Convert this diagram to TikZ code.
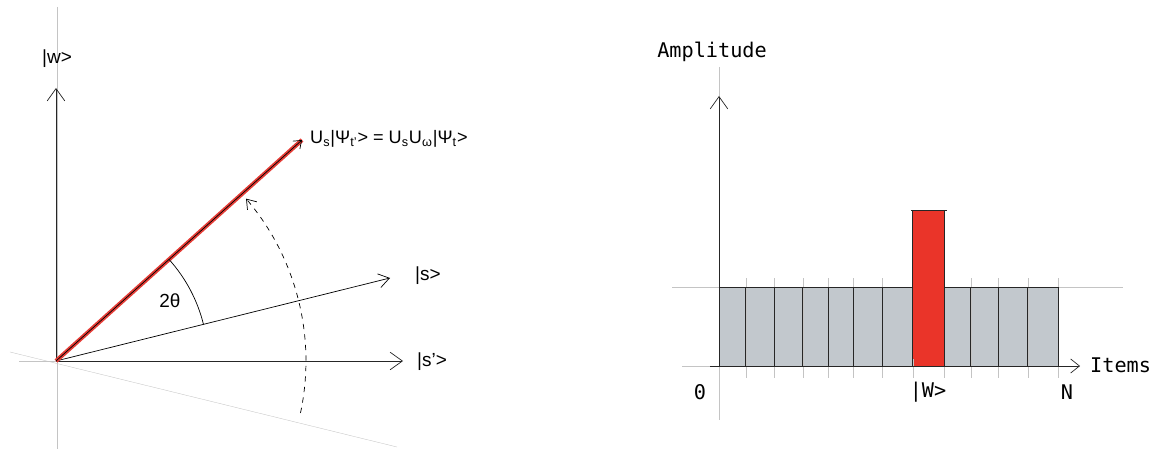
\documentclass[tikz,border=0pt]{standalone}
\usepackage{fontspec}
\setmainfont{Liberation Sans}
\newfontfamily\monofont{DejaVu Sans Mono}
\usetikzlibrary{arrows.meta,positioning}
\definecolor{vecred}{RGB}{228,60,54}
\definecolor{barred}{RGB}{234,52,41}
\definecolor{bargray}{RGB}{194,200,205}
\definecolor{guidegray}{RGB}{196,196,196}

\begin{document}
\begin{tikzpicture}[x=0.02cm, y=0.02cm,
    >={Straight Barb[length=7pt, width=10pt]},
    axis/.style={->, thin, black!85},
    guide/.style={guidegray, very thin},
    ket/.style={font=\fontsize{10.8}{13}\selectfont},
    mono/.style={font=\monofont\fontsize{11.5}{13}\selectfont}
]
\useasboundingbox (0,0) rectangle (1149,449);

% Rotation picture
\coordinate (O) at (56,88);
\coordinate (wend) at (56,361);
\coordinate (spend) at (403,88);
\coordinate (send) at (390,171);
\coordinate (vend) at (302,309);

% Guide lines
\draw[guide] (57,442) -- (57,0);
\draw[guide] (19,88) -- (O);
\draw[guide] (10,97) -- (397,2);

% Axes and vectors
\draw[axis] (O) -- (wend);
\draw[axis] (O) -- (spend);
\draw[thin, -{Straight Barb[length=6pt, width=8pt]}] (O) -- (send);
\draw[vecred, line width=2.4pt] (O) -- (vend);
\draw[thin, -{Straight Barb[length=4pt, width=6pt]}] (O) -- (vend);

% Angles
\draw[thin] (O) ++(13.9:3.04cm) arc[start angle=13.9, end angle=41.8, radius=3.04cm];
\draw[thin, dashed, -{Straight Barb[length=5pt, width=7pt]}] (O) ++(-12:5cm) arc[start angle=-12, end angle=40.5, radius=5cm];

% Labels
\node[ket] (wlab) at (57,390) {|w>};
\node[ket, anchor=west] (splab) at (411,87) {|s’>};
\node[ket, anchor=west] (slab) at (409,173) {|s>};
\node[ket, anchor=west, font=\fontsize{10.3}{13}\selectfont] (vlab) at (304,310) {U\textsubscript{s}|Ψ\textsubscript{t’}> = U\textsubscript{s}U\textsubscript{ω}|Ψ\textsubscript{t}>};
\node[ket] (anglab) at (170,148) {2θ};

% Amplitude chart
\coordinate (base) at (719,83);
\coordinate (ytop) at (719,353);
\coordinate (xend) at (1080,83);

% Guide lines
\draw[guide] (719,382) -- (719,29);
\draw[guide] (682,83) -- (xend);
\draw[guide] (672,162) -- (1123,162);

% Bars
\fill[bargray] (719,83) rectangle (1058,162);
\fill[barred] (913,83) rectangle (944,239);
\foreach \x in {745.7,774.3,802.7,828.3,853.3,882.3,970.7,998.3,1027.7,1058.3} {
    \draw[guide] (\x,71) -- (\x,171);
    \draw[thin, black!85] (\x,83) -- (\x,162);
}
\foreach \x in {912.7,944.3} {
    \draw[guide] (\x,71) -- (\x,90);
    \draw[thin, black!85] (\x,83) -- (\x,239);
}
\draw[thin, black!85] (719,162) -- (913,162);
\draw[thin, black!85] (944,162) -- (1058,162);
\draw[thin, black!85] (911,239) -- (947,239);

% Axes
\draw[axis] (base) -- (ytop);
\draw[axis, -{Straight Barb[length=5pt, width=8pt]}] (710,83) -- (xend);

% Labels
\node[mono] (amplab) at (712,397) {Amplitude};
\node[mono, anchor=west] (itemlab) at (1084,84) {Items};
\node[mono] (zerolab) at (700,57) {0};
\node[mono] (wketlab) at (928,57) {|W>};
\node[mono] (nlab) at (1067,57) {N};

\end{tikzpicture}
\end{document}
